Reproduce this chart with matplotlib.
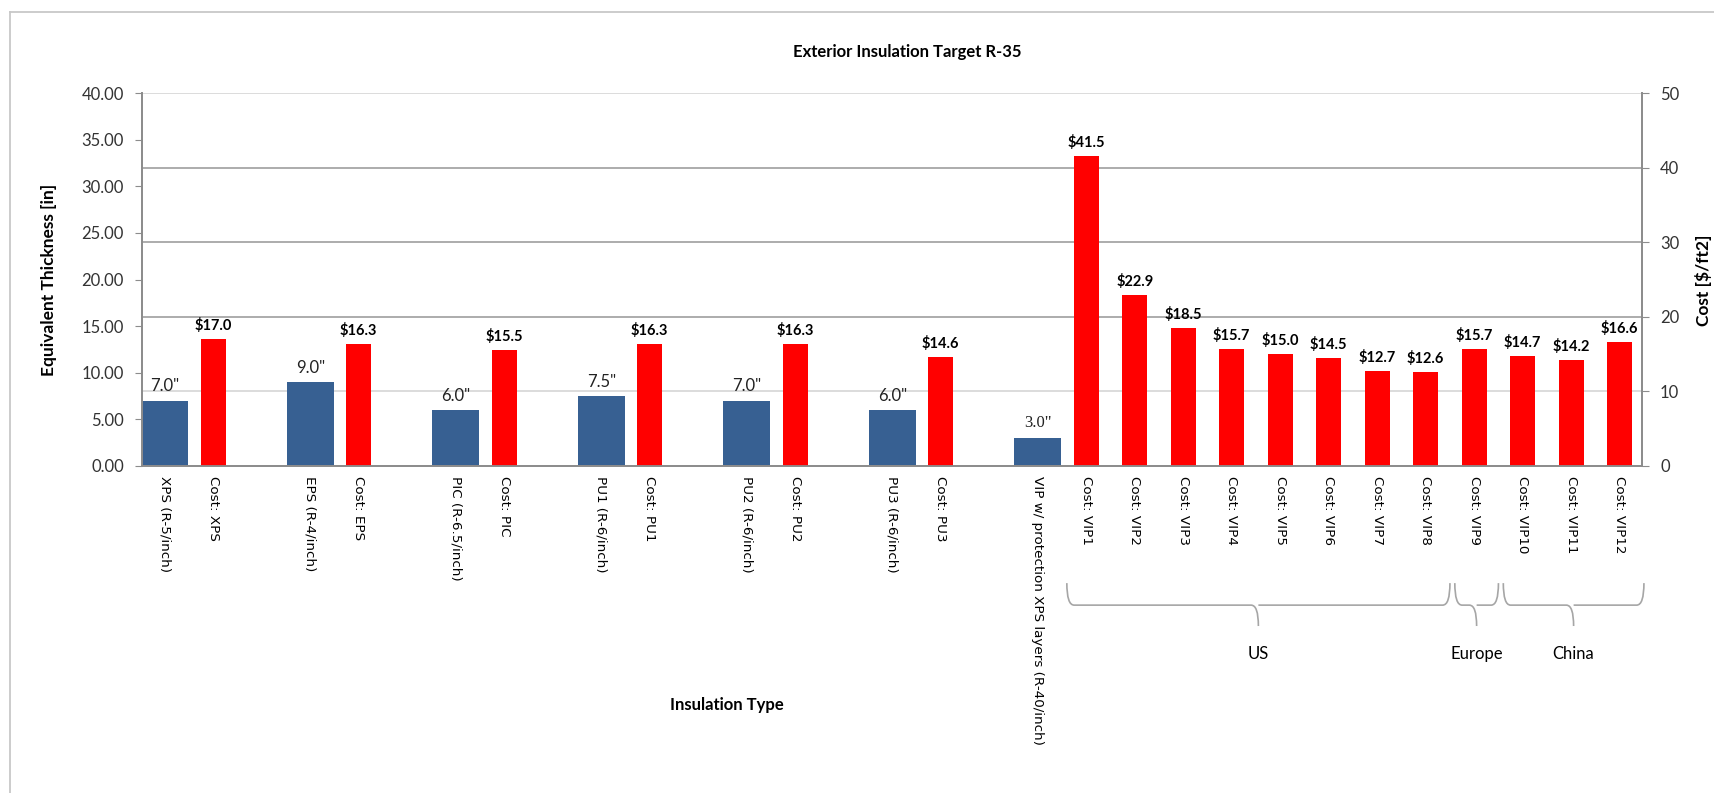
import numpy as np
import matplotlib
matplotlib.use("Agg")
import matplotlib.pyplot as plt
from matplotlib.path import Path
from matplotlib.patches import PathPatch

# Datos
labels = ["XPS (R-5/inch)", "Cost: XPS", "",
          "EPS (R-4/inch)", "Cost: EPS", "",
          "PIC (R-6.5/inch)", "Cost: PIC", "",
          "PU1 (R-6/inch)", "Cost: PU1", "",
          "PU2 (R-6/inch)", "Cost: PU2", "",
          "PU3 (R-6/inch)", "Cost: PU3", "",
          "VIP w/ protection XPS layers (R-40/inch)",
          "Cost: VIP1", "Cost: VIP2", "Cost: VIP3", "Cost: VIP4",
          "Cost: VIP5", "Cost: VIP6", "Cost: VIP7", "Cost: VIP8",
          "Cost: VIP9", "Cost: VIP10", "Cost: VIP11", "Cost: VIP12"]

thickness_cats = ["XPS (R-5/inch)", "EPS (R-4/inch)", "PIC (R-6.5/inch)",
                  "PU1 (R-6/inch)", "PU2 (R-6/inch)", "PU3 (R-6/inch)",
                  "VIP w/ protection XPS layers (R-40/inch)"]
thickness = [7.0, 9.0, 6.0, 7.5, 7.0, 6.0, 3.0]

cost_cats = ["Cost: XPS", "Cost: EPS", "Cost: PIC", "Cost: PU1", "Cost: PU2",
             "Cost: PU3", "Cost: VIP1", "Cost: VIP2", "Cost: VIP3", "Cost: VIP4",
             "Cost: VIP5", "Cost: VIP6", "Cost: VIP7", "Cost: VIP8", "Cost: VIP9",
             "Cost: VIP10", "Cost: VIP11", "Cost: VIP12"]
cost = [17.0, 16.3, 15.5, 16.3, 16.3, 14.6, 41.5, 22.9, 18.5, 15.7,
        15.0, 14.5, 12.7, 12.6, 15.7, 14.7, 14.2, 16.6]

regions = [("US", "Cost: VIP1", "Cost: VIP8"),
           ("Europe", "Cost: VIP9", "Cost: VIP9"),
           ("China", "Cost: VIP10", "Cost: VIP12")]

left_ticks = np.arange(0, 41, 5)
right_ticks = np.arange(0, 51, 10)

# Estilo
blue = "#376092"
red = "#FF0000"
axis_gray = "#8c8c8c"
calibri = ["Lato", "DejaVu Sans"]

x = np.arange(len(labels))
pos = {lab: i for i, lab in enumerate(labels) if lab}
xt = [pos[c] for c in thickness_cats]
xc = [pos[c] for c in cost_cats]

W, H = 1714, 793
fig = plt.figure(figsize=(W / 100, H / 100), dpi=100)
ax = fig.add_axes([142 / W, (H - 466) / H, 1500 / W, 373 / H])
ax2 = ax.twinx()

ax.set_xlim(-0.47, len(labels) - 1 + 0.46)
ax.set_ylim(0, 40)
ax2.set_ylim(0, 50)

# lineas de cuadricula (en la escala secundaria)
for v in right_ticks[1:]:
    col = "#d9d9d9" if v in (10, 50) else "#a6a6a6"
    ax.axhline(v * 40 / 50, color=col, lw=1.3, zorder=0)

ax.bar(xt, thickness, width=0.96, color=blue, zorder=2)
ax2.bar(xc, cost, width=0.52, color=red, zorder=2)

for xi, v in zip(xt, thickness):
    fam = ["Liberation Serif"] if xi == pos[thickness_cats[-1]] else calibri
    ax.text(xi, v + 0.7, f'{v:.1f}"', ha="center", va="bottom",
            fontsize=12, family=fam, color="#222222")
for xi, v in zip(xc, cost):
    ax2.text(xi, v + 0.8, f"${v:.1f}", ha="center", va="bottom",
             fontsize=10.5, family=calibri, fontweight="bold")

ax.set_xticks(x)
ax.set_xticklabels(labels, rotation=-90, fontsize=9.7, family="DejaVu Sans",
                   va="top", ha="center", color="black")
ax.tick_params(axis="x", length=0, pad=7)

ax.set_yticks(left_ticks)
ax.set_yticklabels([f"{v:.2f}" for v in left_ticks], family=calibri, fontsize=12,
                   color="#333333")
ax.tick_params(axis="y", length=5, color=axis_gray, pad=8)
ax2.set_yticks(right_ticks)
ax2.set_yticklabels([f"{v:d}" for v in right_ticks], family=calibri, fontsize=12,
                    color="#333333")
ax2.tick_params(axis="y", length=5, color=axis_gray, pad=8)

for a in (ax, ax2):
    a.spines["top"].set_visible(False)
    for s in ("left", "right", "bottom"):
        a.spines[s].set_color(axis_gray)
        a.spines[s].set_linewidth(1.3)

# llaves de regiones
trans = ax.get_xaxis_transform()
y_top, y_line, y_tip, y_txt = -0.314, -0.373, -0.429, -0.505
for name, c0, c1 in regions:
    x0 = pos[c0] - 0.4
    x1 = pos[c1] + 0.5
    xm = (x0 + x1) / 2
    d = 0.15
    verts = [(x0, y_top), (x0, y_line), (x0 + d, y_line), (xm - d, y_line),
             (xm, y_line), (xm, y_tip),
             (xm, y_line), (xm + d, y_line), (x1 - d, y_line),
             (x1, y_line), (x1, y_top)]
    codes = [Path.MOVETO, Path.CURVE3, Path.CURVE3, Path.LINETO,
             Path.CURVE3, Path.CURVE3,
             Path.MOVETO, Path.CURVE3, Path.LINETO,
             Path.CURVE3, Path.CURVE3]
    ax.add_patch(PathPatch(Path(verts, codes), transform=trans, fill=False,
                           edgecolor="#a6a6a6", lw=1.2, clip_on=False))
    ax.text(xm, y_txt, name, transform=trans, ha="center", va="center",
            fontsize=12, family=calibri)

# textos
fig.text(907 / W, 1 - 52 / H, "Exterior Insulation Target R-35", ha="center",
         va="center", fontsize=12, fontweight="bold", family=calibri)
fig.text(727 / W, 1 - 705 / H, "Insulation Type", ha="center", va="center",
         fontsize=12, fontweight="bold", family=calibri)
fig.text(49 / W, 1 - 280 / H, "Equivalent Thickness [in]", rotation=90,
         ha="center", va="center", fontsize=12.5, fontweight="bold", family=calibri)
fig.text(1704 / W, 1 - 280 / H, "Cost [$/ft2]", rotation=90,
         ha="center", va="center", fontsize=12.5, fontweight="bold", family=calibri)

# borde del area de grafico
fig.add_artist(plt.Line2D([10 / W, 10 / W], [0, 1 - 12 / H], color="#c8c8c8",
                          lw=1.3, transform=fig.transFigure))
fig.add_artist(plt.Line2D([10 / W, 1], [1 - 12 / H, 1 - 12 / H], color="#c8c8c8",
                          lw=1.3, transform=fig.transFigure))

fig.savefig("out.png", dpi=100)
